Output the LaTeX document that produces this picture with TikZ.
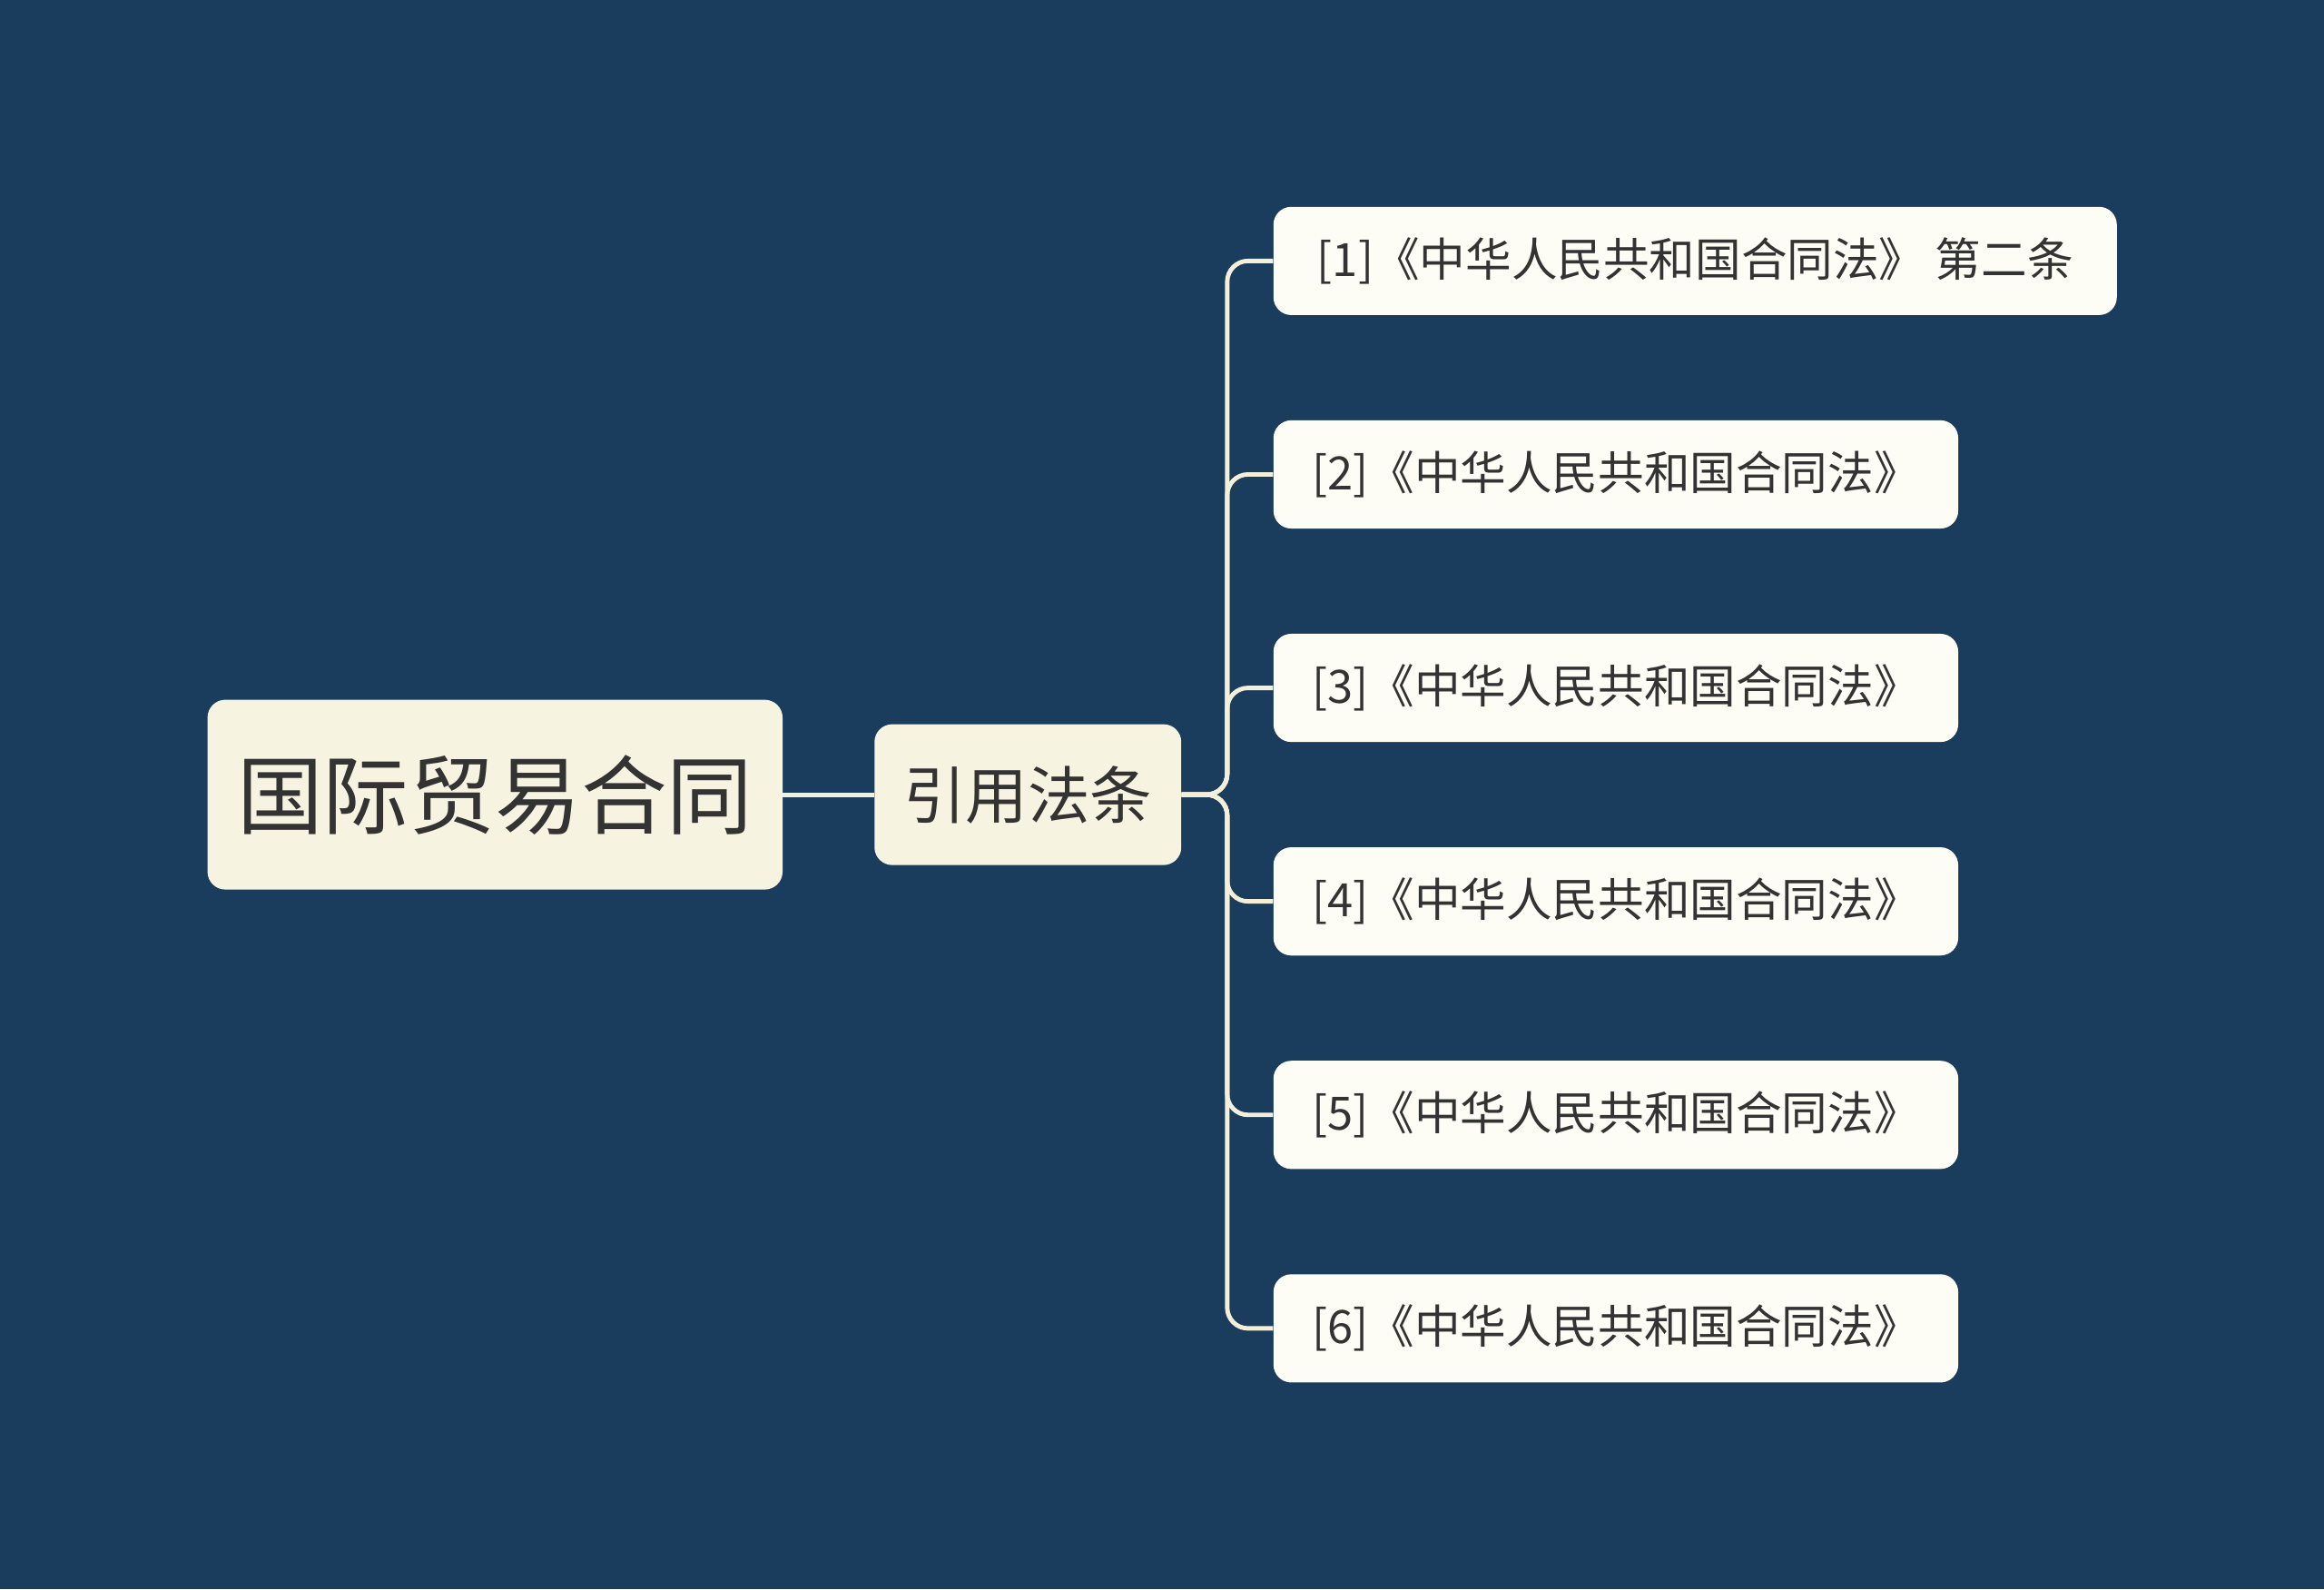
\documentclass[tikz,border=0pt]{standalone}
\usepackage{fontspec}
\setmainfont{Noto Sans CJK SC}
\definecolor{bg}{HTML}{1A3C5D}
\definecolor{rootc}{HTML}{F7F3E1}
\definecolor{leafc}{HTML}{FDFDF6}
\definecolor{linec}{HTML}{F3EFD8}
\definecolor{txt}{HTML}{333333}
\begin{document}
\begin{tikzpicture}[x=1pt,y=-1pt,
  box/.style={draw=none,rounded corners=12pt,text=txt,inner sep=0pt},
  link/.style={draw=linec,line width=3pt,rounded corners=14pt}]
\fill[bg] (0,0) rectangle (1568,1072);
\useasboundingbox (0,0) rectangle (1568,1072);
\node[box,fill=rootc,minimum width=388pt,minimum height=128pt,font=\fontsize{58}{60}\selectfont] (root) at (334,536) {国际贸易合同};
\node[box,fill=rootc,minimum width=207pt,minimum height=95pt,font=\fontsize{42}{44}\selectfont] (mid) at (693.5,536) {引用法条};
\node[box,fill=leafc,minimum width=569pt,minimum height=73pt,anchor=west,font=\fontsize{31}{33}\selectfont] (l1) at (859,176) {[1]《中华人民共和国合同法》 第二条};
\foreach \i/\y in {2/320,3/464,4/608,5/752,6/896}{
  \node[box,fill=leafc,minimum width=462pt,minimum height=73pt,anchor=west,font=\fontsize{31}{33}\selectfont] (l\i) at (859,\y) {[\i]《中华人民共和国合同法》};
}
\draw[link] (root.east) -- (mid.west);
\coordinate (j) at (828,536);
\foreach \i in {1,...,6}{
  \draw[link] (mid.east) -- (j) |- (l\i.west);
}
\end{tikzpicture}
\end{document}
